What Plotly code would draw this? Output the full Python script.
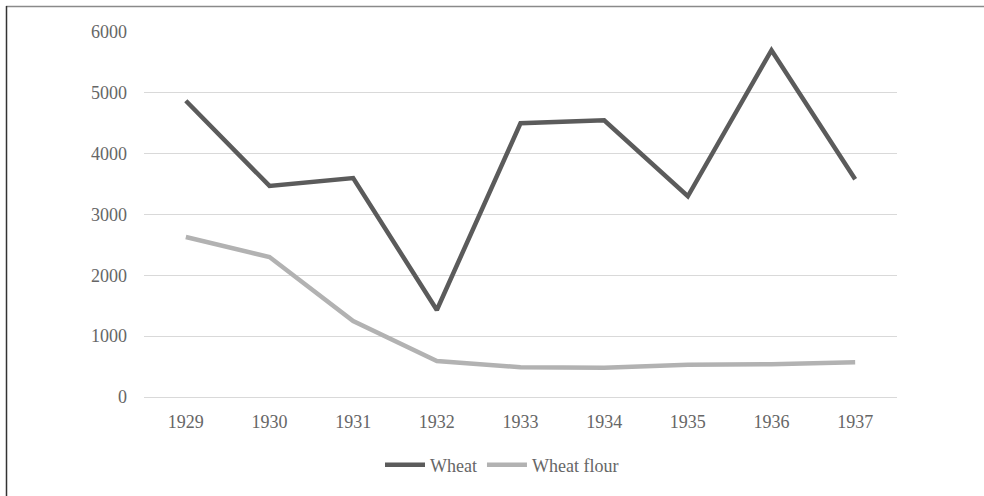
import plotly.graph_objects as go

years = ["1929", "1930", "1931", "1932", "1933", "1934", "1935", "1936", "1937"]
wheat = [4870, 3470, 3600, 1430, 4500, 4550, 3300, 5700, 3580]
wheat_flour = [2630, 2300, 1250, 590, 490, 480, 530, 540, 570]
y_ticks = [0, 1000, 2000, 3000, 4000, 5000, 6000]

FONT = "Liberation Serif"
TXT = "#666666"
W, H = 984, 496
ml, mr, mt, mb = 144, 87, 32, 99
pw = W - ml - mr
ph = H - mt - mb

fig = go.Figure()
fig.add_trace(go.Scatter(x=years, y=wheat, mode="lines", name="Wheat",
                         line=dict(color="#5b5b5b", width=4.5)))
fig.add_trace(go.Scatter(x=years, y=wheat_flour, mode="lines", name="Wheat flour",
                         line=dict(color="#b2b2b2", width=4.5)))

def px_x(x):
    return (x - ml) / pw

def px_y(y):
    return (H - mb - y) / ph

# top border (gray) and left border (dark)
fig.add_shape(type="line", xref="paper", yref="paper",
              x0=px_x(6), x1=px_x(984), y0=px_y(6.5), y1=px_y(6.5),
              line=dict(color="#8a8a8a", width=1.5), layer="below")
fig.add_shape(type="line", xref="paper", yref="paper",
              x0=px_x(6.5), x1=px_x(6.5), y0=px_y(6), y1=px_y(496),
              line=dict(color="#333333", width=1.5), layer="below")

fig.update_layout(
    width=W, height=H,
    margin=dict(l=ml, r=mr, t=mt, b=mb),
    paper_bgcolor="white", plot_bgcolor="white",
    font=dict(family=FONT, size=18, color=TXT),
    showlegend=True,
    legend=dict(orientation="h", x=px_x(502), xanchor="center", y=px_y(465), yanchor="middle",
                font=dict(family=FONT, size=18, color=TXT), itemwidth=40,
                tracegroupgap=0),
    xaxis=dict(type="category", range=[-0.5, 8.5], showgrid=False, showline=False,
               ticks="", ticklabelstandoff=12, tickfont=dict(family=FONT, size=18, color=TXT)),
    yaxis=dict(range=[0, 6000], tickvals=y_ticks, showgrid=True, gridcolor="#d9d9d9", gridwidth=1,
               zeroline=True, zerolinecolor="#d9d9d9", zerolinewidth=1, showline=False,
               ticks="", ticklabelstandoff=16, tickfont=dict(family=FONT, size=18, color=TXT)),
)

fig.write_html("out.html", config={"displayModeBar": False},
               post_script="document.body.style.margin='0';document.body.style.overflow='hidden';")
